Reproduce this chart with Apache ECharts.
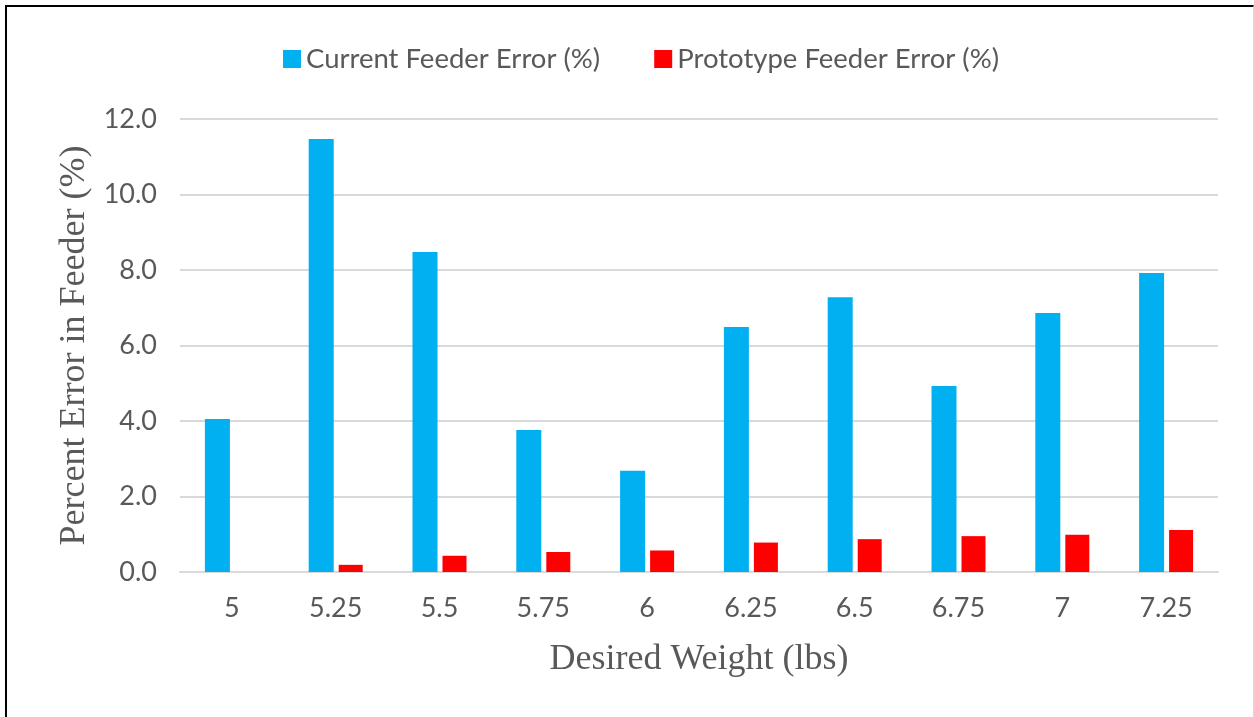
<!DOCTYPE html>
<html>
<head>
<meta charset="utf-8">
<script src="https://cdn.jsdelivr.net/npm/echarts@6/dist/echarts.min.js"></script>
<style>
  html, body { margin: 0; padding: 0; background: #fff; }
  #frame {
    position: absolute; left: 5px; top: 5px; width: 1246px; height: 710px;
    border-top: 2px solid #000; border-left: 2px solid #000;
    border-right: 1px solid #d9d9d9; border-bottom: 1px solid #e6e6e6;
  }
  #main { position: absolute; left: 0; top: 0; width: 1254px; height: 717px; }
</style>
</head>
<body>
<div id="frame"></div>
<div id="main"></div>
<script>
  // desired weight categories
  const weights = ["5", "5.25", "5.5", "5.75", "6", "6.25", "6.5", "6.75", "7", "7.25"];
  // error values
  const currentError = [4.05, 11.47, 8.48, 3.76, 2.68, 6.49, 7.28, 4.93, 6.86, 7.92];
  const prototypeError = [0, 0.19, 0.43, 0.53, 0.57, 0.78, 0.87, 0.95, 0.99, 1.11];

  const chart = echarts.init(document.getElementById("main"));
  const labelFont = "Lato, 'Open Sans', sans-serif";
  const titleFont = "'Liberation Serif', serif";
  chart.setOption({
    animation: false,
    legend: {
      top: 40,
      left: 278,
      itemWidth: 18,
      itemHeight: 18,
      itemGap: 54,
      icon: "rect",
      textStyle: { color: "#595959", fontSize: 27.5, fontFamily: labelFont }
    },
    grid: { left: 180, right: 36, top: 119, bottom: 145 },
    xAxis: {
      type: "category",
      data: weights,
      name: "Desired Weight (lbs)",
      nameLocation: "middle",
      nameGap: 70,
      nameTextStyle: { color: "#595959", fontSize: 36, fontFamily: titleFont },
      axisLine: { lineStyle: { color: "#d9d9d9", width: 2 } },
      axisTick: { show: false },
      axisLabel: { color: "#595959", fontSize: 27, margin: 23, fontFamily: labelFont }
    },
    yAxis: {
      type: "value",
      min: 0,
      max: 12,
      interval: 2,
      name: "Percent Error in Feeder (%)",
      nameLocation: "middle",
      nameGap: 87,
      nameTextStyle: { color: "#595959", fontSize: 36, fontFamily: titleFont },
      axisLabel: {
        color: "#595959", fontSize: 27, margin: 23, fontFamily: labelFont,
        formatter: v => v.toFixed(1)
      },
      splitLine: { lineStyle: { color: "#d9d9d9", width: 2 } }
    },
    series: [
      {
        name: "Current Feeder Error (%)",
        type: "bar",
        data: currentError,
        barWidth: 25,
        barGap: "20%",
        itemStyle: { color: "#00b0f0" }
      },
      {
        name: "Prototype Feeder Error (%)",
        type: "bar",
        data: prototypeError,
        barWidth: 24,
        itemStyle: { color: "#ff0000" }
      }
    ]
  });
</script>
</body>
</html>
